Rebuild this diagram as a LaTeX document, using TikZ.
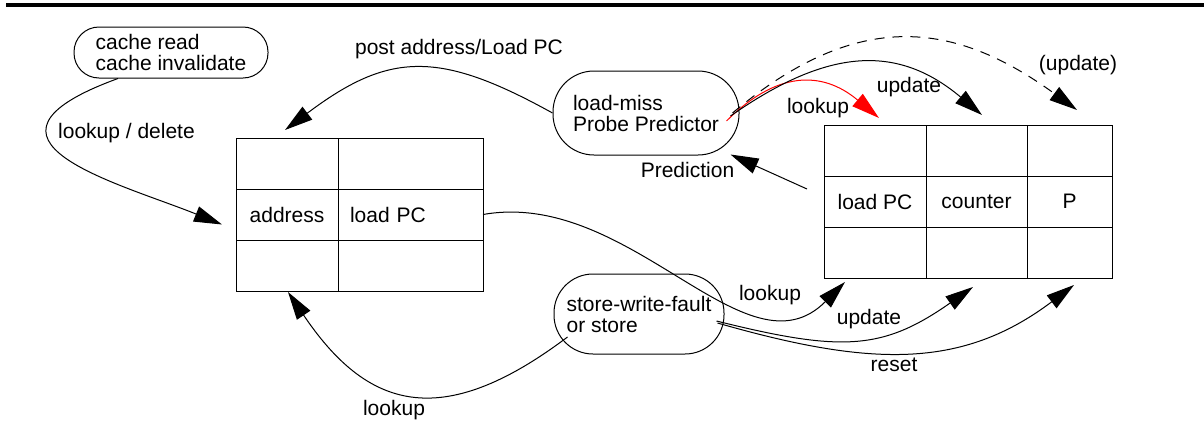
\documentclass[tikz,border=0pt]{standalone}
\usepackage{fontspec}
\setmainfont{Liberation Sans}
\usetikzlibrary{arrows.meta}

\begin{document}
\begin{tikzpicture}[x=0.5pt, y=-0.5pt, line width=0.5pt,
    font=\fontsize{10.5}{10.5}\selectfont,
    >={Triangle[length=14pt,width=8pt]},
    cell/.style={draw, minimum width=51pt, minimum height=25.5pt, inner sep=0pt, outer sep=0pt},
    bubble/.style={draw, align=left, inner sep=0pt},
    lbl/.style={inner sep=0pt}]
    \useasboundingbox (0,0) rectangle (1204,429);
    \draw[line width=1.6pt] (6,5) -- (1204,5);

    % states
    \node[bubble, minimum width=97pt, minimum height=25.5pt, rounded corners=12.5pt] (cache) at (171,52.5) {cache read\\cache invalidate};
    \node[bubble, minimum width=93pt, minimum height=42pt, rounded corners=20.5pt] (miss) at (646,113) {load-miss\\Probe Predictor};
    \node[bubble, minimum width=85pt, minimum height=40pt, rounded corners=19.5pt] (store) at (639,314) {store-write-fault\\or store};

    % left table
    \foreach \r/\y in {1/163.5,3/265.5} {
        \node[cell] (l\r a) at (287,\y) {};
        \node[cell, minimum width=72.5pt] (l\r b) at (410.5,\y) {};
    }
    \node[cell] (l2a) at (287,214.5) {address};
    \node[cell, minimum width=72.5pt, text width=60.5pt, align=left] (l2b) at (410.5,214.5) {load PC};

    % right table
    \foreach \r/\y in {1/150.5,3/252.5} {
        \node[cell] (r\r a) at (875,\y) {};
        \node[cell, minimum width=50.5pt] (r\r b) at (976.5,\y) {};
        \node[cell, minimum width=42.5pt] (r\r c) at (1069.5,\y) {};
    }
    \node[cell] (r2a) at (875,201.5) {load PC};
    \node[cell, minimum width=50.5pt] (r2b) at (976.5,201.5) {counter};
    \node[cell, minimum width=42.5pt] (r2c) at (1069.5,201.5) {P};

    % transitions
    \draw[->] ([xshift=-26.5pt]cache.south) to[out=200, in=158, out distance=90pt, in distance=55pt] ([xshift=-7pt,yshift=-5pt]l2a.west);
    \draw[->] (miss.west) to[out=151, in=37, distance=65pt] ([xshift=-1pt,yshift=4pt]l1a.north);
    \draw[->, draw=red] ([xshift=-6.5pt,yshift=-4pt]miss.east) to[out=45, in=140, out distance=35pt, in distance=37.5pt] ([xshift=2pt,yshift=3.5pt]r1a.north);
    \draw[->] ([xshift=-4.5pt,yshift=-1.5pt]miss.east) to[out=35, in=140, out distance=60pt, in distance=55pt] ([xshift=2.75pt,yshift=5pt]r1b.north);
    \draw[->, dash pattern=on 5pt off 4pt] ([xshift=-3.5pt]miss.east) to[out=40, in=144, out distance=82.5pt, in distance=75pt] ([xshift=3.75pt,yshift=7.5pt]r1c.north);
    \draw[->] ([xshift=-8.5pt,yshift=6.25pt]r2a.west) -- ([xshift=-4.5pt,yshift=0.5pt]miss.south east);
    \draw[->] ([xshift=7pt,yshift=-11.5pt]store.west) to[out=217, in=304, out distance=80pt, in distance=70pt] ([xshift=0.5pt,yshift=-0.5pt]l3a.south);
    \draw[->] (l2b.east) to[out=10, in=225, out distance=75pt, in distance=70pt] ([xshift=10.5pt,yshift=-2pt]r3a.south west);
    \draw[->] ([xshift=-4pt,yshift=-3.5pt]store.east) to[out=346, in=215, out distance=65pt, in distance=55pt] ([xshift=-1.75pt,yshift=-4.5pt]r3b.south);
    \draw[->] ([xshift=-3.5pt,yshift=-4.5pt]store.east) to[out=344, in=217, out distance=80pt, in distance=70pt] ([xshift=2.25pt,yshift=-3.5pt]r3c.south);

    % labels
    \node[lbl] (ldel) at (126.5,133) {lookup / delete};
    \node[lbl] (lpost) at (459,49) {post address/Load PC};
    \node[lbl] (llook) at (818,108) {lookup};
    \node[lbl] (lupd) at (909,87) {update};
    \node[lbl] (lupdq) at (1078,65) {(update)};
    \node[lbl] (lpred) at (687.5,170) {Prediction};
    \node[lbl] (lslook) at (394,410) {lookup};
    \node[lbl] (lplook) at (770,295) {lookup};
    \node[lbl] (lsupd) at (869,319) {update};
    \node[lbl] (lreset) at (894,365) {reset};
\end{tikzpicture}
\end{document}
